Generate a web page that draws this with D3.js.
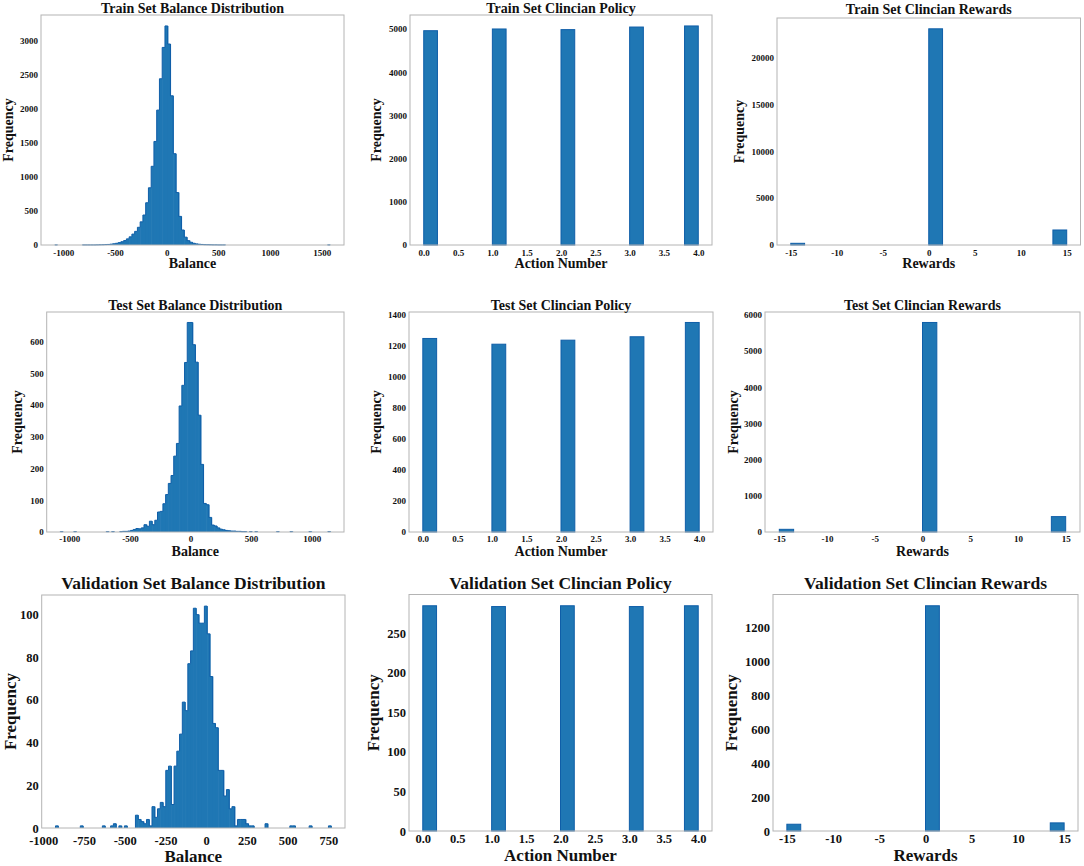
<!DOCTYPE html>
<html>
<head>
<meta charset="utf-8">
<script src="https://cdn.jsdelivr.net/npm/d3@7"></script>
<style>
  body { margin: 0; background: #fff; }
  text { font-family: "Liberation Serif", "DejaVu Serif", serif; font-weight: bold; fill: #111; }
</style>
</head>
<body>
<script>
// histogram counts per bin (100 equal bins between the min and max balance)
var trainBalanceRange = [-1083, 1583];
var trainBalanceCounts = [
  1,0,0,0,0,0,0,0,0,0,
  1,1,1,1,1,2,3,4,6,8,
  12,18,25,35,48,65,90,120,160,200,
  260,340,440,620,840,1155,1520,1980,2440,2900,
  3215,2950,2190,1340,770,420,220,115,64,40,
  25,16,11,8,5,4,3,2,2,1,
  1,1,0,0,0,0,0,0,0,0,
  0,0,0,0,0,0,0,0,0,0,
  0,0,0,0,0,0,0,0,0,0,
  0,0,0,0,0,0,0,0,0,1];

var testBalanceRange = [-1075, 1155];
var testBalanceCounts = [
  1,0,0,0,0,1,0,0,0,0,
  0,0,0,0,0,0,0,1,0,1,
  0,0,1,2,2,3,5,8,11,10,
  13,23,18,34,23,37,63,65,89,118,
  153,178,239,279,397,462,534,660,660,590,
  535,368,213,90,86,46,22,19,13,9,
  7,5,4,3,3,2,2,1,1,0,
  1,0,1,0,0,0,0,0,0,0,
  1,0,0,0,0,1,0,0,0,0,
  0,0,1,0,0,0,0,0,0,1];

var valBalanceRange = [-925, 767];
var valBalanceCounts = [
  1,0,0,0,0,0,0,0,0,1,
  0,0,0,0,0,0,0,1,0,0,
  1,2,0,1,0,1,0,0,0,6,
  4,3,2,4,1,10,5,9,12,10,
  27,29,11,29,36,44,59,55,77,83,
  103,100,96,96,104,91,71,49,47,27,
  27,15,18,9,10,1,4,4,4,2,
  1,1,0,0,0,0,2,0,0,0,
  0,0,0,0,0,1,1,0,0,0,
  0,0,1,0,0,0,0,0,0,1];

// clinician actions and rewards (20-bin histograms in the original)
var actions = [0, 1, 2, 3, 4];
var trainPolicy = [4960, 5000, 4985, 5045, 5070];
var testPolicy = [1247, 1210, 1236, 1258, 1350];
var valPolicy = [285, 284, 285, 284, 285];

var rewardValues = [-15, 0, 15];
var trainRewards = [180, 23040, 1600];
var testRewards = [74, 5788, 425];
var valRewards = [40, 1331, 48];

// tick labels
var balanceTicksTrain = [-1000, -500, 0, 500, 1000, 1500];
var balanceTicksTest = [-1000, -500, 0, 500, 1000];
var balanceTicksVal = [-1000, -750, -500, -250, 0, 250, 500, 750];
var actionTicks = [0, 0.5, 1, 1.5, 2, 2.5, 3, 3.5, 4];
var rewardTicks = [-15, -10, -5, 0, 5, 10, 15];

var W = 1084, H = 866;
var svg = d3.select("body").append("svg")
    .attr("width", W)
    .attr("height", H);

var small = {title: 14, tick: 9, label: 14};
var large = {title: 17.5, tick: 12.5, label: 17};

function balanceBins(counts, range){
    var w = (range[1] - range[0]) / counts.length;
    return counts.map(function(c, i){
        return {x0: range[0] + i * w, x1: range[0] + (i + 1) * w, count: c};
    });
}

function discreteBins(values, counts){
    var lo = d3.min(values), hi = d3.max(values);
    var w = (hi - lo) / 20;
    return values.map(function(v, i){
        var k = Math.min(Math.floor((v - lo) / w + 1e-9), 19);
        return {x0: lo + k * w, x1: lo + (k + 1) * w, count: counts[i]};
    });
}

var fmtInt = function(d){ return String(d); };
var fmt1 = function(d){ return d.toFixed(1); };

var panels = [
  {title: "Train Set Balance Distribution", bins: balanceBins(trainBalanceCounts, trainBalanceRange), stair: true,
   range: trainBalanceRange, xTicks: balanceTicksTrain, yTicks: d3.range(0, 3001, 500), xFmt: fmtInt,
   xlabel: "Balance", box: [41, 344, 15, 245], ylabX: 13, titleY: 13, tickY: 256, xlabY: 268, st: small},
  {title: "Train Set Clincian Policy", bins: discreteBins(actions, trainPolicy),
   range: [0, 4], xTicks: actionTicks, yTicks: d3.range(0, 5001, 1000), xFmt: fmt1,
   xlabel: "Action Number", box: [410, 712, 15, 245], ylabX: 381, titleY: 13, tickY: 256, xlabY: 268, st: small},
  {title: "Train Set Clincian Rewards", bins: discreteBins(rewardValues, trainRewards),
   range: [-15, 15], xTicks: rewardTicks, yTicks: d3.range(0, 20001, 5000), xFmt: fmtInt,
   xlabel: "Rewards", box: [777, 1080.5, 18, 245], ylabX: 744, titleY: 14, tickY: 256, xlabY: 268, st: small},

  {title: "Test Set Balance Distribution", bins: balanceBins(testBalanceCounts, testBalanceRange), stair: true,
   range: testBalanceRange, xTicks: balanceTicksTest, yTicks: d3.range(0, 601, 100), xFmt: fmtInt,
   xlabel: "Balance", box: [46.7, 344, 312, 532], ylabX: 22, titleY: 309.5, tickY: 542, xlabY: 556, st: small},
  {title: "Test Set Clincian Policy", bins: discreteBins(actions, testPolicy),
   range: [0, 4], xTicks: actionTicks, yTicks: d3.range(0, 1401, 200), xFmt: fmt1,
   xlabel: "Action Number", box: [409, 713, 312, 532], ylabX: 381, titleY: 309.5, tickY: 542, xlabY: 556, st: small},
  {title: "Test Set Clincian Rewards", bins: discreteBins(rewardValues, testRewards),
   range: [-15, 15], xTicks: rewardTicks, yTicks: d3.range(0, 6001, 1000), xFmt: fmtInt,
   xlabel: "Rewards", box: [765, 1080, 312, 532], ylabX: 738, titleY: 309.5, tickY: 542, xlabY: 556, st: small},

  {title: "Validation Set Balance Distribution", bins: balanceBins(valBalanceCounts, valBalanceRange), stair: true,
   range: valBalanceRange, xTicks: balanceTicksVal, yTicks: d3.range(0, 101, 20), xFmt: fmtInt,
   xlabel: "Balance", box: [41.7, 345, 595, 828], ylabX: 16, titleY: 589, tickY: 845, xlabY: 862, st: large},
  {title: "Validation Set Clincian Policy", bins: discreteBins(actions, valPolicy),
   range: [0, 4], xTicks: actionTicks, yTicks: d3.range(0, 251, 50), xFmt: fmt1,
   xlabel: "Action Number", box: [409, 712, 594.5, 831], ylabX: 379, titleY: 589, tickY: 843, xlabY: 861, st: large},
  {title: "Validation Set Clincian Rewards", bins: discreteBins(rewardValues, valRewards),
   range: [-15, 15], xTicks: rewardTicks, yTicks: d3.range(0, 1201, 200), xFmt: fmtInt,
   xlabel: "Rewards", box: [773, 1078, 594.5, 831], ylabX: 737, titleY: 589, tickY: 843, xlabY: 861, st: large}
];

panels.forEach(function(p){
    var l = p.box[0], r = p.box[1], t = p.box[2], b = p.box[3];
    var pad = 0.05 * (p.range[1] - p.range[0]);
    var x = d3.scaleLinear().domain([p.range[0] - pad, p.range[1] + pad]).range([l, r]);
    var y = d3.scaleLinear().domain([0, d3.max(p.bins, function(d){ return d.count; }) * 1.05]).range([b, t]);

    var g = svg.append("g");

    // bars (dense ones overlap a hair so no seams show between neighbours)
    var seam = p.stair ? 0.6 : 0;
    g.selectAll(".bar")
        .data(p.bins.filter(function(d){ return d.count > 0; }))
        .enter()
        .append("rect")
        .attr("class", "bar")
        .attr("x", function(d){ return x(d.x0); })
        .attr("width", function(d){ return x(d.x1) - x(d.x0) + seam; })
        .attr("y", function(d){ return y(d.count); })
        .attr("height", function(d){ return y(0) - y(d.count); })
        .style("fill", "#1f77b4")
        .style("stroke", p.stair ? "none" : "#0f5ea8")
        .style("stroke-width", 1);

    // staircase outline for the dense histograms
    if (p.stair){
        var path = "";
        p.bins.forEach(function(d, i){
            var prev = i > 0 ? p.bins[i - 1].count : 0;
            if (prev !== d.count && (prev > 0 || d.count > 0)){
                path += "M" + x(d.x0) + "," + y(prev) + "V" + y(d.count);
            }
            if (d.count > 0){
                path += "M" + x(d.x0) + "," + y(d.count) + "H" + x(d.x1);
            }
            if (i === p.bins.length - 1 && d.count > 0){
                path += "M" + x(d.x1) + "," + y(d.count) + "V" + y(0);
            }
        });
        g.append("path")
            .attr("d", path)
            .style("fill", "none")
            .style("stroke", "#0f5ea8")
            .style("stroke-width", 1);
    }

    // frame
    g.append("rect")
        .attr("x", l).attr("y", t)
        .attr("width", r - l).attr("height", b - t)
        .style("fill", "none")
        .style("stroke", "#b4b4b4")
        .style("stroke-width", 1);

    // x axis
    var xa = g.append("g")
        .attr("transform", "translate(0," + b + ")")
        .call(d3.axisBottom(x).tickValues(p.xTicks).tickSize(0).tickFormat(p.xFmt));
    xa.select(".domain").remove();
    xa.selectAll("text")
        .attr("y", p.tickY - b)
        .attr("dy", 0)
        .style("font-size", p.st.tick + "px")
        .style("font-family", "Liberation Serif")
        .style("fill", "#111");

    // y axis
    var ya = g.append("g")
        .attr("transform", "translate(" + l + ",0)")
        .call(d3.axisLeft(y).tickValues(p.yTicks).tickSize(0).tickPadding(3).tickFormat(fmtInt));
    ya.select(".domain").remove();
    ya.selectAll("text")
        .style("font-size", p.st.tick + "px")
        .style("font-family", "Liberation Serif")
        .style("fill", "#111");

    // title and labels
    g.append("text")
        .attr("x", (l + r) / 2).attr("y", p.titleY)
        .attr("text-anchor", "middle")
        .style("font-size", p.st.title + "px")
        .text(p.title);

    g.append("text")
        .attr("x", (l + r) / 2).attr("y", p.xlabY)
        .attr("text-anchor", "middle")
        .style("font-size", p.st.label + "px")
        .text(p.xlabel);

    g.append("text")
        .attr("transform", "translate(" + p.ylabX + "," + ((t + b) / 2) + ") rotate(-90)")
        .attr("text-anchor", "middle")
        .style("font-size", p.st.label + "px")
        .text("Frequency");
});
</script>
</body>
</html>
